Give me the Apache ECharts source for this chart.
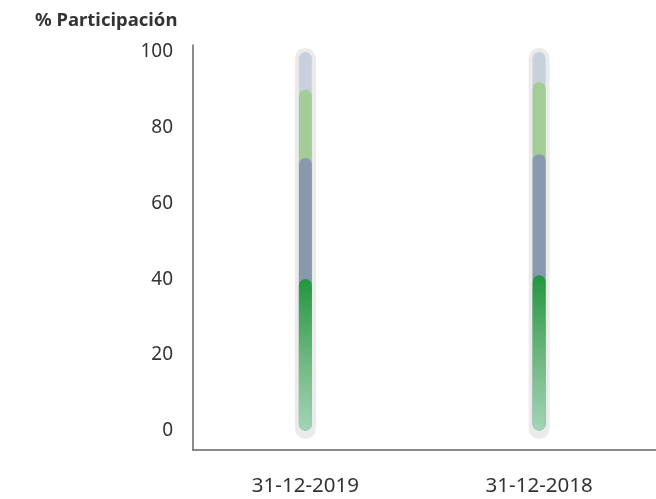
<!DOCTYPE html>
<html>
<head>
<meta charset="utf-8">
<script src="https://cdn.jsdelivr.net/npm/echarts@6/dist/echarts.min.js"></script>
<style>html,body{margin:0;padding:0;background:#fff}#c{width:656px;height:499px}</style>
</head>
<body>
<div id="c"></div>
<script>
const categories = ["31-12-2019", "31-12-2018"];
const yTicks = [0, 20, 40, 60, 80, 100];
const trackValues = [103.3, 103.3];
const grayTotal = [100, 100];
const lightGreenTotal = [90, 92];
const grayBlueTotal = [72, 73];
const greenTotal = [40, 41];

const FONT = '"Noto Sans", "Open Sans", sans-serif';
const yMin = -5.15, yMax = 101.85;
const trackShift = 2.25;

const chart = echarts.init(document.getElementById('c'), null, {renderer: 'canvas'});
const barBase = {type: 'bar', xAxisIndex: 1, yAxisIndex: 1, barWidth: 13, barGap: '-100%', silent: true};
chart.setOption({
  animation: false,
  title: {text: '% Participación', left: 30, top: 6,
    textStyle: {fontFamily: FONT, fontWeight: 'bold', fontSize: 18.5, color: '#333'}},
  grid: [
    {left: 193, right: 0, top: 45, bottom: 49, containLabel: false},
    {left: 188.5, width: 476, top: 45, bottom: 49, containLabel: false}
  ],
  xAxis: [
    {type: 'category', gridIndex: 0, data: categories,
      axisLine: {show: true, onZero: false, lineStyle: {color: '#666', width: 1.5}},
      axisTick: {show: false}, axisLabel: {show: false}, splitLine: {show: false}},
    {type: 'category', gridIndex: 1, data: categories,
      axisLine: {show: false}, axisTick: {show: false},
      axisLabel: {show: true, margin: 26, fontFamily: FONT, fontSize: 20.5, color: '#333'}},
    {type: 'category', gridIndex: 1, data: categories, show: false}
  ],
  yAxis: [
    {type: 'value', gridIndex: 0, min: yMin, max: yMax,
      axisLine: {show: true, lineStyle: {color: '#666', width: 1.5}},
      axisTick: {show: false}, splitLine: {show: false},
      axisLabel: {show: true, customValues: yTicks, margin: 20, fontFamily: FONT, fontSize: 19, color: '#333'}},
    {type: 'value', gridIndex: 1, min: yMin, max: yMax, show: false, splitLine: {show: false}},
    {type: 'value', gridIndex: 1, min: yMin + trackShift, max: yMax + trackShift, show: false, splitLine: {show: false}}
  ],
  series: [
    {type: 'bar', name: 'track', xAxisIndex: 2, yAxisIndex: 2, barWidth: 21, silent: true,
      data: trackValues, itemStyle: {color: '#ebebeb', borderRadius: 10.5}},
    Object.assign({}, barBase, {name: 'gris', data: grayTotal,
      itemStyle: {color: '#c8d0dc', borderRadius: 6.5}}),
    Object.assign({}, barBase, {name: 'verde claro', data: lightGreenTotal,
      itemStyle: {color: '#a3cc96', borderRadius: 6.5}}),
    Object.assign({}, barBase, {name: 'azul gris', data: grayBlueTotal,
      itemStyle: {color: '#8898ad', borderRadius: 6.5}}),
    Object.assign({}, barBase, {name: 'verde', data: greenTotal,
      itemStyle: {borderRadius: 6.5, color: new echarts.graphic.LinearGradient(0, 0, 0, 1, [
        {offset: 0, color: '#23963f'}, {offset: 0.5, color: '#6bb57d'}, {offset: 1, color: '#a2d5b5'}])}})
  ]
});
</script>
</body>
</html>
